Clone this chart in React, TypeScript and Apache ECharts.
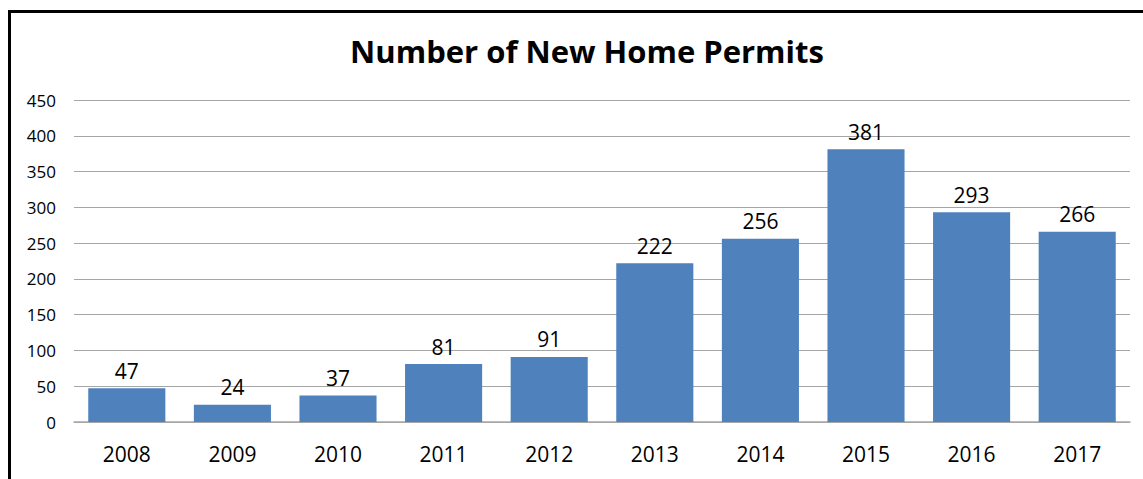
import React, { useEffect, useRef } from "react";
import * as echarts from "echarts";

const categories = ["2008", "2009", "2010", "2011", "2012", "2013", "2014", "2015", "2016", "2017"];
const permits = [47, 24, 37, 81, 91, 222, 256, 381, 293, 266];
const titleText = "Number of New Home Permits";

export default function App() {
  const ref = useRef<HTMLDivElement>(null);
  useEffect(() => {
    const chart = echarts.init(ref.current!, null, { renderer: "svg" });
    const font = "'Open Sans', 'Liberation Sans', sans-serif";
    chart.setOption({
      animation: false,
      backgroundColor: "#ffffff",
      title: {
        text: titleText,
        left: 582,
        top: 30,
        textAlign: "center",
        textStyle: { fontFamily: "'Open Sans', sans-serif", fontWeight: "bold", fontSize: 31, color: "#000" },
      },
      graphic: [
        {
          type: "rect",
          shape: { x: 9.5, y: 11.5, width: 1200, height: 600 },
          style: { fill: "none", stroke: "#000", lineWidth: 3 },
          silent: true,
        },
      ],
      grid: { left: 74, right: 13, top: 100, bottom: 57, containLabel: false },
      xAxis: {
        type: "category",
        data: categories,
        axisTick: { show: false },
        axisLine: { show: true, lineStyle: { color: "#a6a6a6", width: 1.5 } },
        axisLabel: { fontFamily: font, fontSize: 21, color: "#000", margin: 21 },
      },
      yAxis: {
        type: "value",
        min: 0,
        max: 450,
        interval: 50,
        axisLine: { show: false },
        axisTick: { show: false },
        splitLine: { lineStyle: { color: "#a6a6a6", width: 1.2 } },
        axisLabel: { fontFamily: font, fontSize: 17, color: "#000", margin: 18 },
      },
      series: [
        {
          type: "bar",
          data: permits,
          barWidth: "73%",
          itemStyle: { color: "#4f81bd" },
          label: {
            show: true,
            position: "top",
            distance: 7,
            fontFamily: font,
            fontSize: 21,
            color: "#000",
          },
        },
      ],
    });
    return () => chart.dispose();
  }, []);
  return <div ref={ref} style={{ position: "absolute", left: 0, top: 0, width: 1143, height: 479 }} />;
}
